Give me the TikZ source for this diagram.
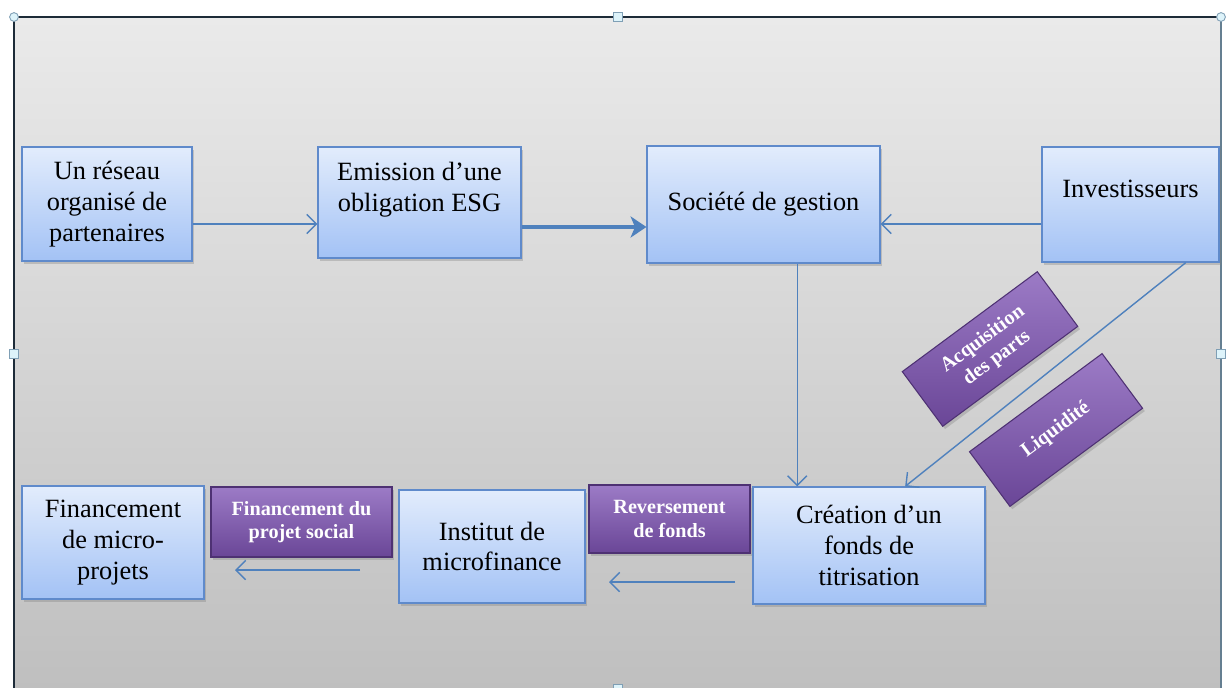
\documentclass[tikz,border=0pt]{standalone}
\usepackage{fontspec}
\setmainfont{Liberation Serif}
\usetikzlibrary{arrows.meta,shadows,calc}

\definecolor{boxline}{HTML}{5F8ACB}
\definecolor{boxtop}{HTML}{E2ECFC}
\definecolor{boxbot}{HTML}{A3C2F5}
\definecolor{arrowblue}{HTML}{4F81BD}
\definecolor{purptop}{HTML}{9C7BC6}
\definecolor{purpbot}{HTML}{6A4697}
\definecolor{purpline}{HTML}{4E3173}
\definecolor{bgtop}{HTML}{EAEAEA}
\definecolor{bgbot}{HTML}{BFBFBF}
\definecolor{framedark}{HTML}{1D2B38}
\definecolor{handlefill}{HTML}{DDF3FA}
\definecolor{handleline}{HTML}{7F9FB5}

\begin{document}
\begin{tikzpicture}[x=0.02cm,y=-0.02cm,
  bluebox/.style={draw=boxline,line width=0.7pt,top color=boxtop,bottom color=boxbot,
    align=center,inner sep=2pt,font=\fontsize{15}{17.5}\selectfont,
    drop shadow={shadow xshift=1.3pt,shadow yshift=-1.6pt,opacity=0.35}},
  tagbox/.style={draw=purpline,line width=0.6pt,top color=purptop,bottom color=purpbot,
    text=white,align=center,inner sep=2pt,font=\fontsize{11.5}{13.5}\selectfont\bfseries,
    drop shadow={shadow xshift=1.3pt,shadow yshift=-1.6pt,opacity=0.35}},
  arr/.style={draw=arrowblue,line width=0.8pt,-{Straight Barb[length=5.5pt,width=11pt]}},
  bigarr/.style={draw=arrowblue,line width=2.8pt,-{Stealth[length=9pt,width=12pt,inset=2.5pt]}},
  hsq/.style={draw=handleline,fill=handlefill,line width=0.5pt,minimum size=5pt,inner sep=0pt},
  hcirc/.style={hsq,circle}]
  \useasboundingbox (0,0) rectangle (1226,687);
  % background and frame
  \fill[white] (0,0) rectangle (1226,687);
  \shade[top color=bgtop,bottom color=bgbot] (14,17) rectangle (1221,690);
  \draw[framedark,line width=1.2pt] (14,690) -- (14,17) -- (1221,17);
  \draw[handleline!80!black,line width=0.6pt] (1221,17) -- (1221,690);
  \node[hcirc] (hnw) at (14,17) {};
  \node[hcirc] (hne) at (1221,17) {};
  \node[hsq] (hn) at (618,17) {};
  \node[hsq] (hw) at (14,354) {};
  \node[hsq] (he) at (1221,354) {};
  \node[hsq] (hs) at (618,689) {};

  % top row
  \node[bluebox,minimum width=3.4cm,minimum height=2.28cm] (reseau) at (107,204)
    {Un réseau\\organisé de\\partenaires};
  \node[bluebox,minimum width=4.06cm,minimum height=2.22cm] (emission) at (419.5,202.5)
    {Emission d’une\\obligation ESG\\\mbox{}};
  \node[bluebox,minimum width=4.66cm,minimum height=2.34cm] (societe) at (763.5,204.5)
    {Société de gestion};
  \node[bluebox,minimum width=3.54cm,minimum height=2.3cm] (invest) at (1130.5,204.5)
    {Investisseurs\\\mbox{}};

  % bottom row
  \node[bluebox,minimum width=3.64cm,minimum height=2.26cm] (micro) at (113,542.5)
    {Financement\\de micro-\\projets};
  \node[bluebox,minimum width=3.72cm,minimum height=2.26cm] (inst) at (492,546.5)
    {Institut de\\microfinance};
  \node[bluebox,minimum width=4.64cm,minimum height=2.34cm] (fonds) at (869,545.5)
    {Création d’un\\fonds de\\titrisation};

  % flow labels
  \node[tagbox,minimum width=3.62cm,minimum height=1.4cm] (projet) at (301.5,522)
    {Financement du\\projet social};
  \node[tagbox,minimum width=3.22cm,minimum height=1.36cm] (reverse) at (669.5,519)
    {Reversement\\de fonds};
  \node[tagbox,minimum width=3.36cm,minimum height=1.36cm,rotate=36.5] (acq) at (990,349)
    {Acquisition\\des parts};
  \node[tagbox,minimum width=3.3cm,minimum height=1.36cm,rotate=36.5] (liq) at (1056,430)
    {Liquidité};

  % connectors
  \draw[arr] (reseau.east |- 0,224) -- (emission.west |- 0,224);
  \draw[bigarr] (emission.east |- 0,227) -- (societe.west |- 0,227);
  \draw[arr] (invest.west |- 0,224) -- (societe.east |- 0,224);
  \coordinate (sg) at ($(societe.south west)!0.644!(societe.south east)$);
  \draw[arr] (sg) -- (sg |- fonds.north);
  \draw[arr] ($(invest.south west)!0.81!(invest.south east)$)
    -- ($(fonds.north west)!0.655!(fonds.north east)$);
  \coordinate (rv1) at (735,582);
  \coordinate (rv2) at (609,582);
  \draw[arr] (rv1) -- (rv2);
  \coordinate (fp1) at (360,570);
  \coordinate (fp2) at (235,570);
  \draw[arr] (fp1) -- (fp2);
\end{tikzpicture}
\end{document}
